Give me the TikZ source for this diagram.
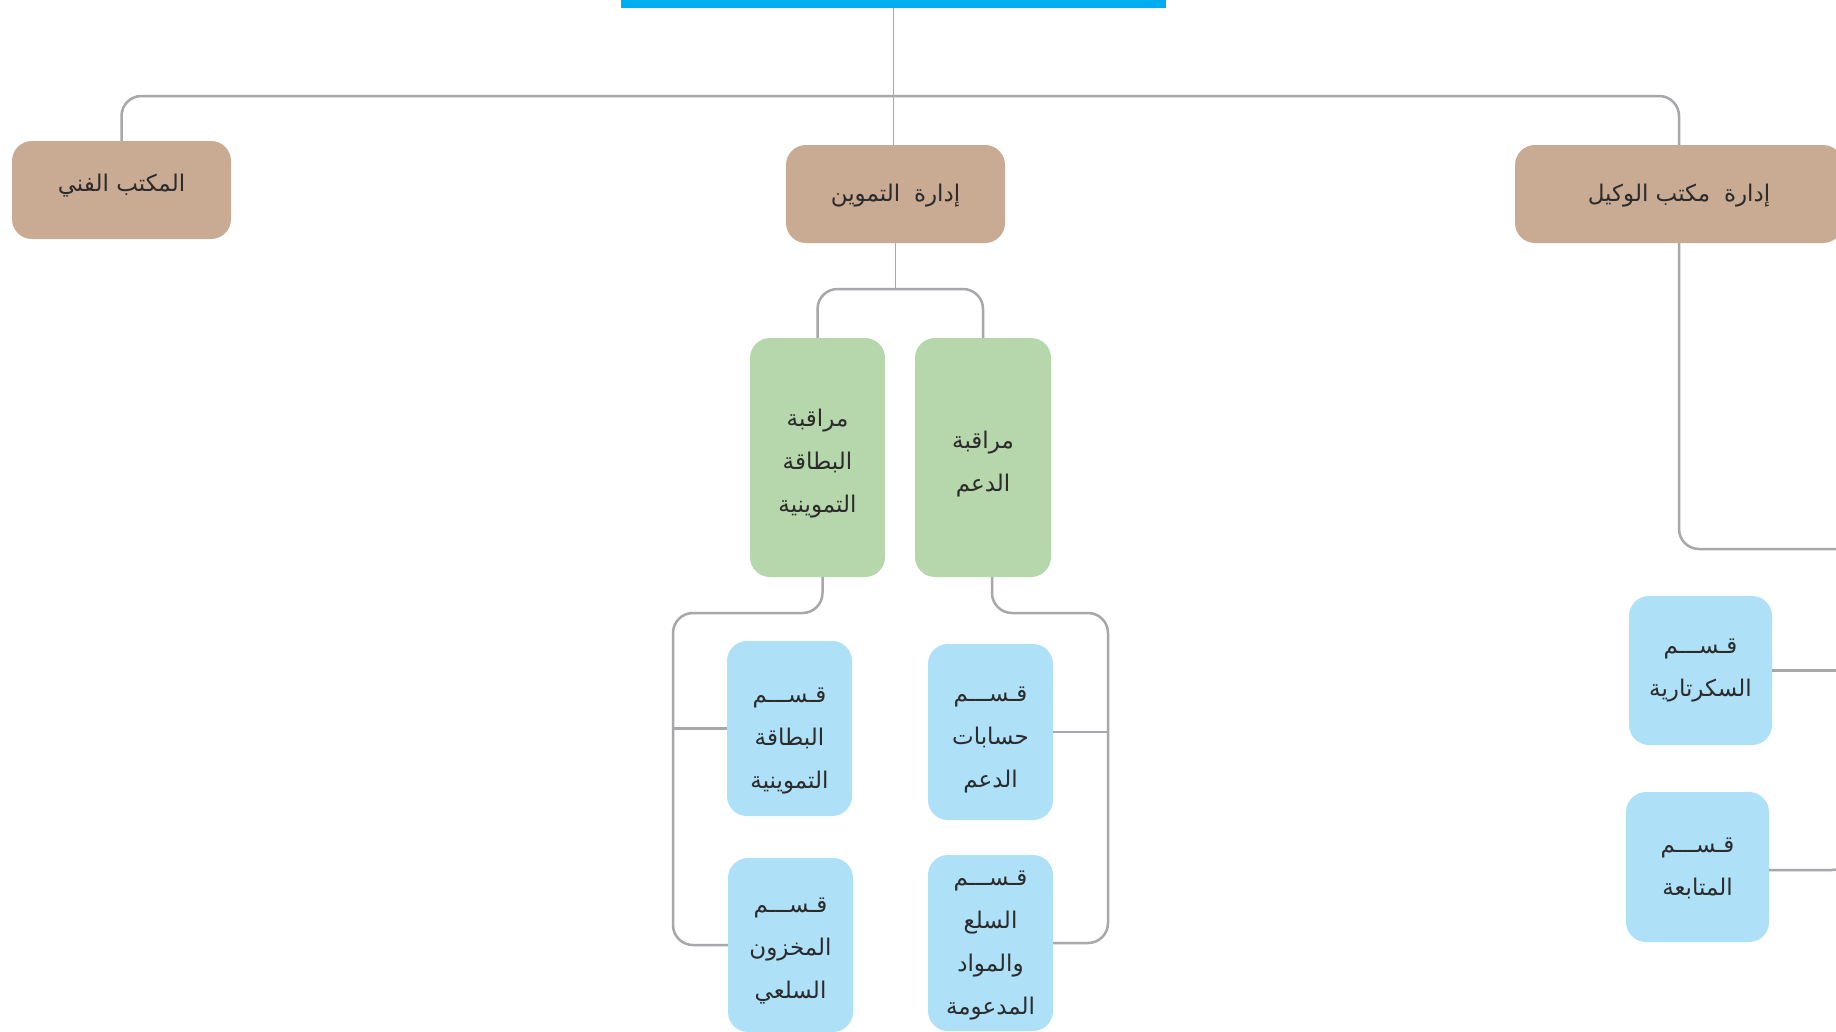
\documentclass[tikz,border=0pt]{standalone}
\usepackage{fontspec}
\newfontfamily\arabicfont[Script=Arabic]{DejaVu Sans}
\TeXXeTstate=1
\definecolor{brownbox}{HTML}{C9AA93}
\definecolor{greenbox}{HTML}{B5D7AB}
\definecolor{bluebox}{HTML}{AEE1F8}
\definecolor{topbar}{HTML}{00AEEF}
\definecolor{conncol}{HTML}{A7A7AC}
\definecolor{txt}{HTML}{2B2B2B}
\begin{document}
\begin{tikzpicture}[x=1pt,y=-1pt,
  box/.style={rounded corners=20pt, inner sep=0pt},
  txtl/.style={inner sep=0pt, align=center, text=txt,
    font=\arabicfont\fontsize{23}{43}\selectfont},
  brownb/.style={box, fill=brownbox},
  greenb/.style={box, fill=greenbox},
  blueb/.style={box, fill=bluebox},
  conn/.style={draw=conncol, line width=2.5pt, rounded corners=20pt},
  thinconn/.style={draw=conncol, line width=1.6pt},
]
\useasboundingbox (0,0) rectangle (1836,1031);
\clip (0,0) rectangle (1836,1031);
\fill[white] (0,0) rectangle (1836,1031);

% top bar
\node[fill=topbar, minimum width=545pt, minimum height=16pt, inner sep=0pt] (top) at (893.5,0) {};

% level 1
\node[brownb, minimum width=219pt, minimum height=98pt,
  label={[txtl, name=fannit, yshift=4pt]center:{\beginR المكتب الفني\endR}}] (fanni) at (121.5,190) {};
\node[brownb, minimum width=219pt, minimum height=98pt,
  label={[txtl, name=tamwint, yshift=-2pt]center:{\beginR إدارة\hspace{0.6em}التموين\endR}}] (tamwin) at (895.5,194) {};
\node[brownb, minimum width=328pt, minimum height=98pt,
  label={[txtl, name=wakilt, yshift=-2pt]center:{\beginR إدارة\hspace{0.6em}مكتب الوكيل\endR}}] (wakil) at (1679,194) {};

% level 2
\node[greenb, minimum width=135pt, minimum height=239pt,
  label={[txtl, name=g1t, yshift=-6pt]center:{\beginR مراقبة\endR\\\beginR البطاقة\endR\\\beginR التموينية\endR}}] (g1) at (817.5,457.5) {};
\node[greenb, minimum width=136pt, minimum height=239pt,
  label={[txtl, name=g2t, yshift=-7pt]center:{\beginR مراقبة\endR\\\beginR الدعم\endR}}] (g2) at (983,457.5) {};

% level 3
\node[blueb, minimum width=125pt, minimum height=175pt,
  label={[txtl, name=b1t, yshift=-12pt]center:{\beginR قـســـم\endR\\\beginR البطاقة\endR\\\beginR التموينية\endR}}] (b1) at (789.5,728.5) {};
\node[blueb, minimum width=125pt, minimum height=176pt,
  label={[txtl, name=b2t, yshift=-8pt]center:{\beginR قـســـم\endR\\\beginR حسابات\endR\\\beginR الدعم\endR}}] (b2) at (990.5,732) {};
\node[blueb, minimum width=125pt, minimum height=174pt,
  label={[txtl, name=b3t, yshift=-6pt]center:{\beginR قـســـم\endR\\\beginR المخزون\endR\\\beginR السلعي\endR}}] (b3) at (790.5,945) {};
\node[blueb, minimum width=125pt, minimum height=176pt,
  label={[txtl, name=b4t, yshift=-2pt]center:{\beginR قـســـم\endR\\\beginR السلع\endR\\\beginR والمواد\endR\\\beginR المدعومة\endR}}] (b4) at (990.5,943) {};
\node[blueb, minimum width=143pt, minimum height=149pt,
  label={[txtl, name=b5t]center:{\beginR قـســـم\endR\\\beginR السكرتارية\endR}}] (b5) at (1700.5,670.5) {};
\node[blueb, minimum width=143pt, minimum height=150pt,
  label={[txtl, name=b6t, yshift=-1pt]center:{\beginR قـســـم\endR\\\beginR المتابعة\endR}}] (b6) at (1697.5,867) {};

% coordinates
\coordinate (hub) at (893.5,96);
\coordinate (j1) at (897,289);
\coordinate (lx) at (673,613);
\coordinate (rx) at (1108,613);
\coordinate (rv) at (1852,549);

% connectors
\draw[thinconn] (top.south) -- (top.south |- tamwin.north);
\draw[conn] (fanni.north) |- (hub) -| (wakil.north);
\draw[thinconn] (tamwin.south) -- (tamwin.south |- j1);
\draw[conn] (g1.north) |- (j1) -| (g2.north);
\draw[conn] ([xshift=5pt]g1.south) |- (lx) |- (b3.west);
\draw[conn] (b1.west) -- (b1.west -| lx);
\draw[conn] ([xshift=9pt]g2.south) |- (rx) |- (b4.east);
\draw[conn] (b2.east) -- (b2.east -| rx);
\draw[conn] (wakil.south) |- (rv);
\draw[conn] (b5.east) -- (b5.east -| rv);
\draw[conn] ([yshift=-3pt]b6.east) -| (rv);
\end{tikzpicture}
\end{document}
